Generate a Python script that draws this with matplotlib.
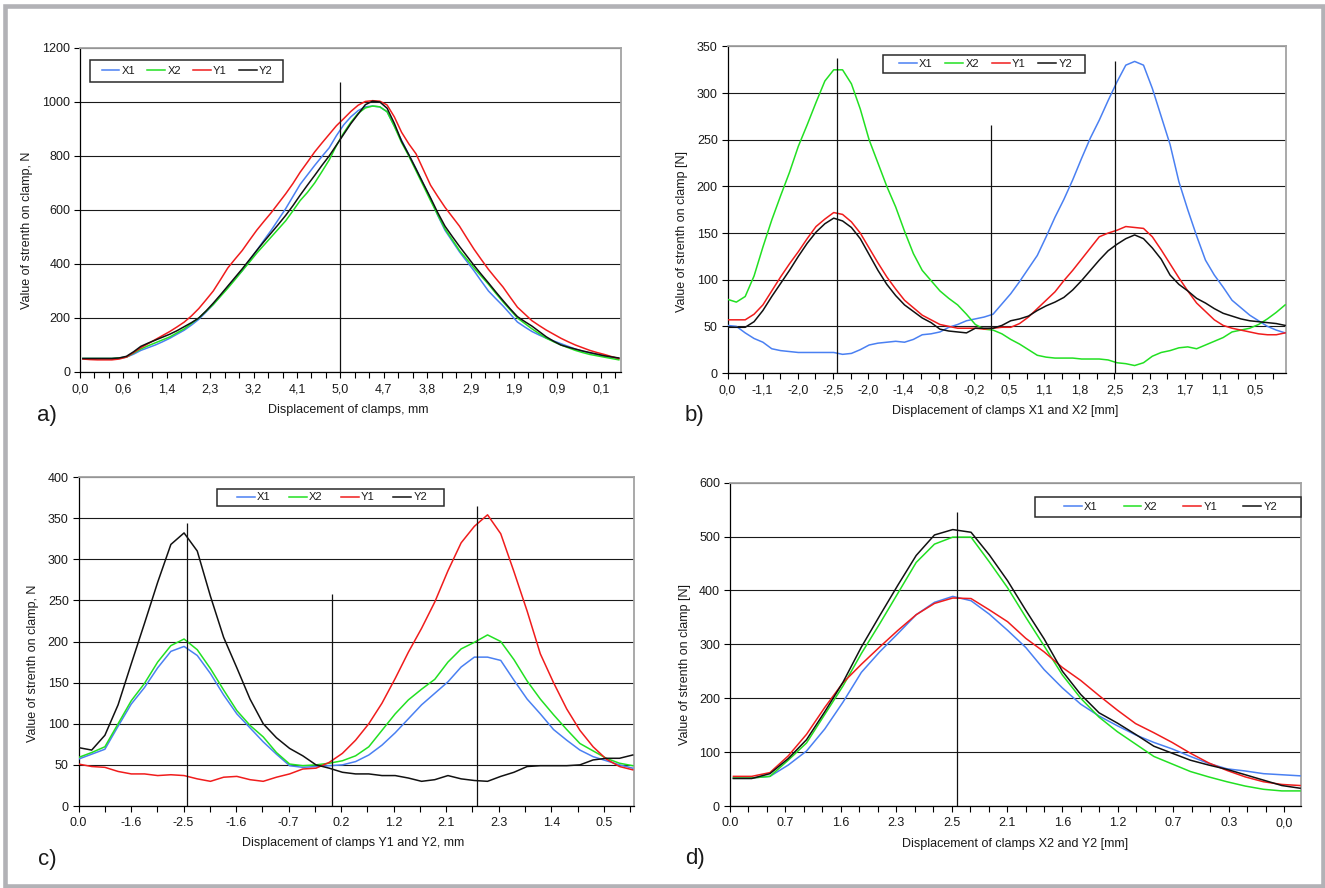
"""
plot.py - four clamp-force curves (X1, X2, Y1, Y2) against clamp displacement.

Output:
    out.png
"""

import numpy as np
import matplotlib
matplotlib.use("Agg")
import matplotlib.pyplot as plt
from matplotlib.patches import Rectangle

plt.rcParams["font.family"] = ["Liberation Sans", "DejaVu Sans"]

# ---------------- Data ----------------
SERIES = ["X1", "X2", "Y1", "Y2"]

# a) both directions, label every 3rd tick, samples every half tick
a_ticklabels = ["0,0", "0,6", "1,4", "2,3", "3,2", "4,1", "5,0", "4,7",
                "3,8", "2,9", "1,9", "0,9", "0,1"]
a_x1 = [50, 50, 50, 50, 50, 52, 55, 66, 80, 90,
        100, 112, 125, 140, 155, 174, 195, 222, 250, 282,
        315, 345, 375, 412, 450, 488, 525, 565, 605, 650,
        695, 730, 765, 798, 830, 875, 915, 945, 968, 982,
        985, 982, 964, 912, 858, 805, 752, 697, 643, 580,
        525, 485, 445, 410, 375, 337, 300, 272, 245, 215,
        185, 167, 150, 137, 125, 115, 105, 95, 85, 77,
        70, 65, 60, 55, 50]
a_x2 = [50, 50, 50, 50, 50, 52, 55, 70, 85, 97,
        108, 119, 130, 145, 160, 180, 200, 225, 250, 280,
        310, 342, 375, 407, 440, 470, 500, 530, 560, 597,
        635, 665, 700, 742, 785, 838, 885, 925, 958, 978,
        985, 982, 964, 910, 850, 800, 745, 690, 635, 582,
        530, 490, 450, 418, 385, 355, 325, 292, 260, 230,
        200, 180, 160, 142, 125, 112, 100, 90, 80, 72,
        65, 60, 55, 50, 45]
a_y1 = [48, 46, 45, 45, 45, 48, 55, 72, 90, 105,
        120, 135, 150, 167, 185, 208, 235, 267, 300, 342,
        385, 418, 450, 488, 525, 558, 590, 625, 660, 698,
        740, 777, 815, 848, 880, 912, 938, 965, 988, 1002,
        1005, 1003, 989, 945, 888, 845, 808, 750, 692, 650,
        610, 575, 540, 497, 455, 417, 380, 347, 315, 277,
        240, 215, 190, 172, 155, 140, 125, 112, 100, 90,
        80, 72, 65, 57, 50]
a_y2 = [50, 50, 50, 50, 50, 52, 58, 75, 95, 107,
        118, 129, 140, 153, 168, 183, 200, 226, 255, 286,
        318, 350, 382, 416, 450, 483, 515, 547, 580, 616,
        655, 692, 728, 765, 800, 840, 880, 920, 955, 990,
        1003, 1000, 977, 921, 855, 805, 752, 698, 645, 590,
        540, 502, 465, 430, 395, 362, 330, 297, 265, 234,
        205, 187, 170, 150, 130, 114, 100, 92, 85, 78,
        72, 66, 60, 56, 52]
a_marks = [18.0]
a_mark_tops = [1075]

# b) clamps X1 and X2 moved, label every 2nd tick, samples every half tick
b_ticklabels = ["0,0", "-1,1", "-2,0", "-2,5", "-2,0", "-1,4", "-0,8", "-0,2",
                "0,5", "1,1", "1,8", "2,5", "2,3", "1,7", "1,1", "0,5"]
b_x1 = [51, 50, 43, 37, 33, 26, 24, 23, 22, 22, 22, 22, 22, 20, 21, 25, 30, 32,
        33, 34, 33, 36, 41, 42, 44, 49, 52, 56, 58, 60, 63, 74, 85, 98, 112,
        126, 146, 167, 186, 207, 230, 252, 271, 292, 312, 330, 334, 330, 305,
        275, 245, 205, 175, 147, 121, 105, 92, 78, 70, 62, 56, 50, 46, 43]
b_x2 = [79, 76, 82, 104, 135, 164, 190, 215, 243, 266, 290, 313, 325, 325, 310,
        283, 250, 225, 200, 178, 152, 128, 110, 99, 88, 80, 73, 63, 52, 47, 46,
        42, 36, 31, 25, 19, 17, 16, 16, 16, 15, 15, 15, 14, 11, 10, 8, 11, 18,
        22, 24, 27, 28, 26, 30, 34, 38, 44, 46, 48, 52, 58, 65, 73]
b_y1 = [57, 57, 57, 63, 73, 88, 103, 117, 130, 144, 157, 165, 172, 170, 162,
        150, 134, 118, 103, 90, 78, 70, 62, 57, 52, 50, 48, 48, 48, 47, 48, 49,
        49, 53, 60, 69, 78, 87, 99, 110, 122, 134, 146, 150, 153, 157, 156, 155,
        146, 132, 117, 102, 88, 75, 66, 57, 51, 48, 46, 44, 42, 41, 41, 43]
b_y2 = [49, 49, 49, 55, 67, 82, 96, 110, 125, 139, 151, 160, 166, 163, 156,
        144, 127, 110, 95, 83, 73, 66, 59, 54, 47, 45, 44, 43, 48, 48, 48, 51,
        56, 58, 61, 67, 72, 76, 81, 89, 99, 110, 121, 131, 138, 144, 148, 144,
        134, 122, 105, 95, 88, 80, 75, 69, 64, 61, 58, 56, 55, 54, 53, 51]
b_marks = [6.2, 15.0, 22.05]
b_mark_tops = [338, 266, 334]

# c) clamps Y1 and Y2 moved, label every 2nd tick, samples every half tick
c_ticklabels = ["0.0", "-1.6", "-2.5", "-1.6", "-0.7", "0.2", "1.2", "2.1",
                "2.3", "1.4", "0.5"]
c_x1 = [57, 63, 69, 97, 124, 144, 168, 188, 194, 183, 161, 135, 112, 95, 78,
        63, 49, 47, 48, 49, 50, 54, 62, 74, 89, 106, 123, 137, 151, 169, 181,
        181, 177, 153, 130, 112, 93, 80, 68, 60, 55, 50, 46]
c_x2 = [59, 65, 72, 100, 128, 149, 175, 195, 203, 190, 167, 141, 116, 98, 84,
        65, 51, 49, 50, 52, 55, 61, 72, 92, 112, 129, 142, 154, 175, 191, 199,
        208, 200, 178, 152, 130, 111, 93, 76, 67, 58, 52, 49]
c_y1 = [51, 48, 47, 42, 39, 39, 37, 38, 37, 33, 30, 35, 36, 32, 30, 35, 39, 45,
        46, 53, 64, 80, 100, 125, 155, 187, 216, 248, 286, 320, 340, 354, 331,
        285, 237, 185, 150, 118, 92, 72, 57, 48, 44]
c_y2 = [71, 68, 86, 123, 173, 222, 272, 318, 332, 310, 255, 205, 168, 130, 100,
        83, 70, 61, 50, 46, 41, 39, 39, 37, 37, 34, 30, 32, 37, 33, 31, 30, 36,
        41, 48, 49, 49, 49, 50, 56, 58, 58, 62]
c_marks = [4.13, 9.66, 15.18]
c_mark_tops = [344, 258, 365]

# d) clamps X2 and Y2 moved, label every 3rd tick, one sample per tick
d_ticklabels = ["0.0", "0.7", "1.6", "2.3", "2.5", "2.1", "1.6", "1.2", "0.7",
                "0.3", "0,0"]
d_x1 = [52, 52, 55, 76, 102, 143, 193, 248, 286, 320, 355, 378, 389, 381, 356,
        326, 294, 253, 219, 189, 167, 149, 132, 118, 106, 92, 79, 69, 65, 60,
        58, 56]
d_x2 = [52, 52, 55, 85, 117, 170, 223, 283, 338, 395, 452, 486, 499, 499, 453,
        405, 350, 297, 243, 200, 165, 138, 115, 92, 78, 64, 54, 45, 37, 31, 28,
        28]
d_y1 = [55, 55, 62, 93, 133, 183, 229, 263, 295, 326, 355, 376, 386, 385, 364,
        342, 311, 286, 257, 233, 205, 178, 153, 136, 118, 98, 80, 66, 54, 45,
        40, 38]
d_y2 = [51, 51, 60, 88, 123, 175, 230, 295, 353, 410, 465, 503, 513, 508, 466,
        418, 363, 310, 250, 207, 173, 154, 133, 111, 98, 85, 76, 68, 58, 48, 38,
        33]
d_marks = [12.3]
d_mark_tops = [545]

# ---------------- Style / layout ----------------
W, H = 1325, 888
COLORS = {"X1": "#4a80f2", "X2": "#22e022", "Y1": "#f01c1c", "Y2": "#111111"}
TXT = "#1a1a1a"


def px_rect(left, top, right, bottom):
    """Pixel box (top-left origin) -> figure fraction [x, y, w, h]."""
    return [left / W, 1 - bottom / H, (right - left) / W, (bottom - top) / H]


PANELS = [
    dict(tag="a)", tag_xy=(37, 415), rect=px_rect(80, 48, 621, 372),
         data=[a_x1, a_x2, a_y1, a_y2], span=(0.2, 37.25), xmax=37.4,
         ymax=1200, ystep=200, every=3, ticklabels=a_ticklabels,
         marks=a_marks, mark_tops=a_mark_tops,
         xlabel="Displacement of clamps, mm", xlab=(0.495, -0.099),
         ylabel="Value of strenth on clamp, N", ylab=(-0.087, 0.438),
         legbox=(90, 60, 283, 82), leginner=(101.7, 272.7)),
    dict(tag="b)", tag_xy=(685, 415), rect=px_rect(727.5, 46.5, 1286, 373),
         data=[b_x1, b_x2, b_y1, b_y2], span=(0.0, 31.7), xmax=31.75,
         ymax=350, ystep=50, every=2, ticklabels=b_ticklabels,
         marks=b_marks, mark_tops=b_mark_tops,
         xlabel="Displacement of clamps X1 and X2 [mm]", xlab=(0.497, -0.098),
         ylabel="Value of strenth on clamp [N]", ylab=(-0.071, 0.433),
         legbox=(883, 55, 1085, 73), leginner=(899, 1072)),
    dict(tag="c)", tag_xy=(38, 859), rect=px_rect(78.5, 477, 634, 806),
         data=[c_x1, c_x2, c_y1, c_y2], span=(0.0, 21.1), xmax=21.15,
         ymax=400, ystep=50, every=2, ticklabels=c_ticklabels,
         marks=c_marks, mark_tops=c_mark_tops,
         xlabel="Displacement of clamps Y1 and Y2, mm", xlab=(0.495, -0.094),
         ylabel="Value of strenth on clamp, N", ylab=(-0.071, 0.435),
         legbox=(217, 489, 444, 506), leginner=(237, 427)),
    dict(tag="d)", tag_xy=(685, 858), rect=px_rect(729.7, 482.7, 1301, 806),
         data=[d_x1, d_x2, d_y1, d_y2], span=(0.2, 30.85), xmax=30.9,
         ymax=600, ystep=100, every=3, ticklabels=d_ticklabels,
         marks=d_marks, mark_tops=d_mark_tops,
         xlabel="Displacement of clamps X2 and Y2 [mm]", xlab=(0.499, -0.099),
         ylabel="Value of strenth on clamp [N]", ylab=(-0.068, 0.439),
         legbox=(1035, 497, 1301, 517), leginner=(1064, 1277)),
]


# ---------------- Drawing ----------------
def add_legend(fig, ax, lines, box, inner):
    """Excel-like legend: a plain framed box with the entries spread inside."""
    left, top, right, bottom = box
    frame = Rectangle((left / W, 1 - bottom / H), (right - left) / W,
                      (bottom - top) / H, transform=fig.transFigure,
                      facecolor="white", edgecolor="#2a2a2a", lw=1.1,
                      clip_on=False, zorder=6)
    ax.add_patch(frame)

    x0, x1 = inner
    leg = ax.legend(handles=lines, loc="center", mode="expand", ncol=4,
                    bbox_to_anchor=(x0 / W, 1 - bottom / H, (x1 - x0) / W,
                                    (bottom - top) / H),
                    bbox_transform=fig.transFigure, borderaxespad=0,
                    borderpad=0, fontsize=8, frameon=False,
                    handlelength=1.6, handletextpad=0.2, columnspacing=0.5)
    leg.set_zorder(7)
    for t in leg.get_texts():
        t.set_color(TXT)


def draw_panel(fig, p):
    ax = fig.add_axes(p["rect"])

    lines = []
    for name, vals in zip(SERIES, p["data"]):
        pos = np.linspace(p["span"][0], p["span"][1], len(vals))
        ln, = ax.plot(pos, vals, color=COLORS[name], lw=1.1, label=name,
                      zorder=3)
        lines.append(ln)

    ax.vlines(p["marks"], 0, p["mark_tops"], color="#111111", lw=0.9, zorder=4)

    ax.set_xlim(0, p["xmax"])
    ax.set_ylim(0, p["ymax"])

    # category-style x axis: a tick per step, label every few ticks
    n_ticks = int(np.floor(p["xmax"]))
    ax.set_xticks(np.arange(0, n_ticks + 1), minor=True)
    ax.set_xticks(np.arange(len(p["ticklabels"])) * p["every"])
    ax.set_xticklabels(p["ticklabels"])
    ax.set_yticks(np.arange(0, p["ymax"] + 1, p["ystep"]))

    ax.tick_params(axis="x", which="both", direction="out", length=4.5,
                   width=0.8, color="#000000")
    ax.tick_params(axis="x", which="major", pad=3.5, labelsize=9,
                   labelcolor=TXT)
    ax.tick_params(axis="y", direction="out", length=4, width=0.8, pad=3,
                   labelsize=9, labelcolor=TXT)

    ax.yaxis.grid(True, color="#1a1a1a", lw=0.8)
    ax.set_axisbelow(True)

    for side in ("top", "right"):
        ax.spines[side].set_color("#a3a3a3")
        ax.spines[side].set_linewidth(1.3)
    for side in ("left", "bottom"):
        ax.spines[side].set_color("#000000")
        ax.spines[side].set_linewidth(0.9)

    ax.set_xlabel(p["xlabel"], fontsize=9, color=TXT)
    ax.xaxis.set_label_coords(*p["xlab"])
    ax.set_ylabel(p["ylabel"], fontsize=9, color=TXT)
    ax.yaxis.set_label_coords(*p["ylab"])

    add_legend(fig, ax, lines, p["legbox"], p["leginner"])

    fig.text(p["tag_xy"][0] / W, 1 - p["tag_xy"][1] / H, p["tag"],
             fontsize=16, ha="left", va="center", color=TXT)
    return ax


def build(out_path="out.png"):
    fig = plt.figure(figsize=(W / 100, H / 100), dpi=100)
    fig.patch.set_facecolor("white")

    # light grey frame round the whole picture
    fig.add_artist(Rectangle((5 / W, 1 - 886 / H), 1317.5 / W, 879.8 / H,
                             transform=fig.transFigure, fill=False,
                             lw=3.3, edgecolor="#b2b2b6"))

    for p in PANELS:
        draw_panel(fig, p)

    fig.savefig(out_path, dpi=100)
    plt.close(fig)
    return out_path


if __name__ == "__main__":
    print("Generated:", build())
